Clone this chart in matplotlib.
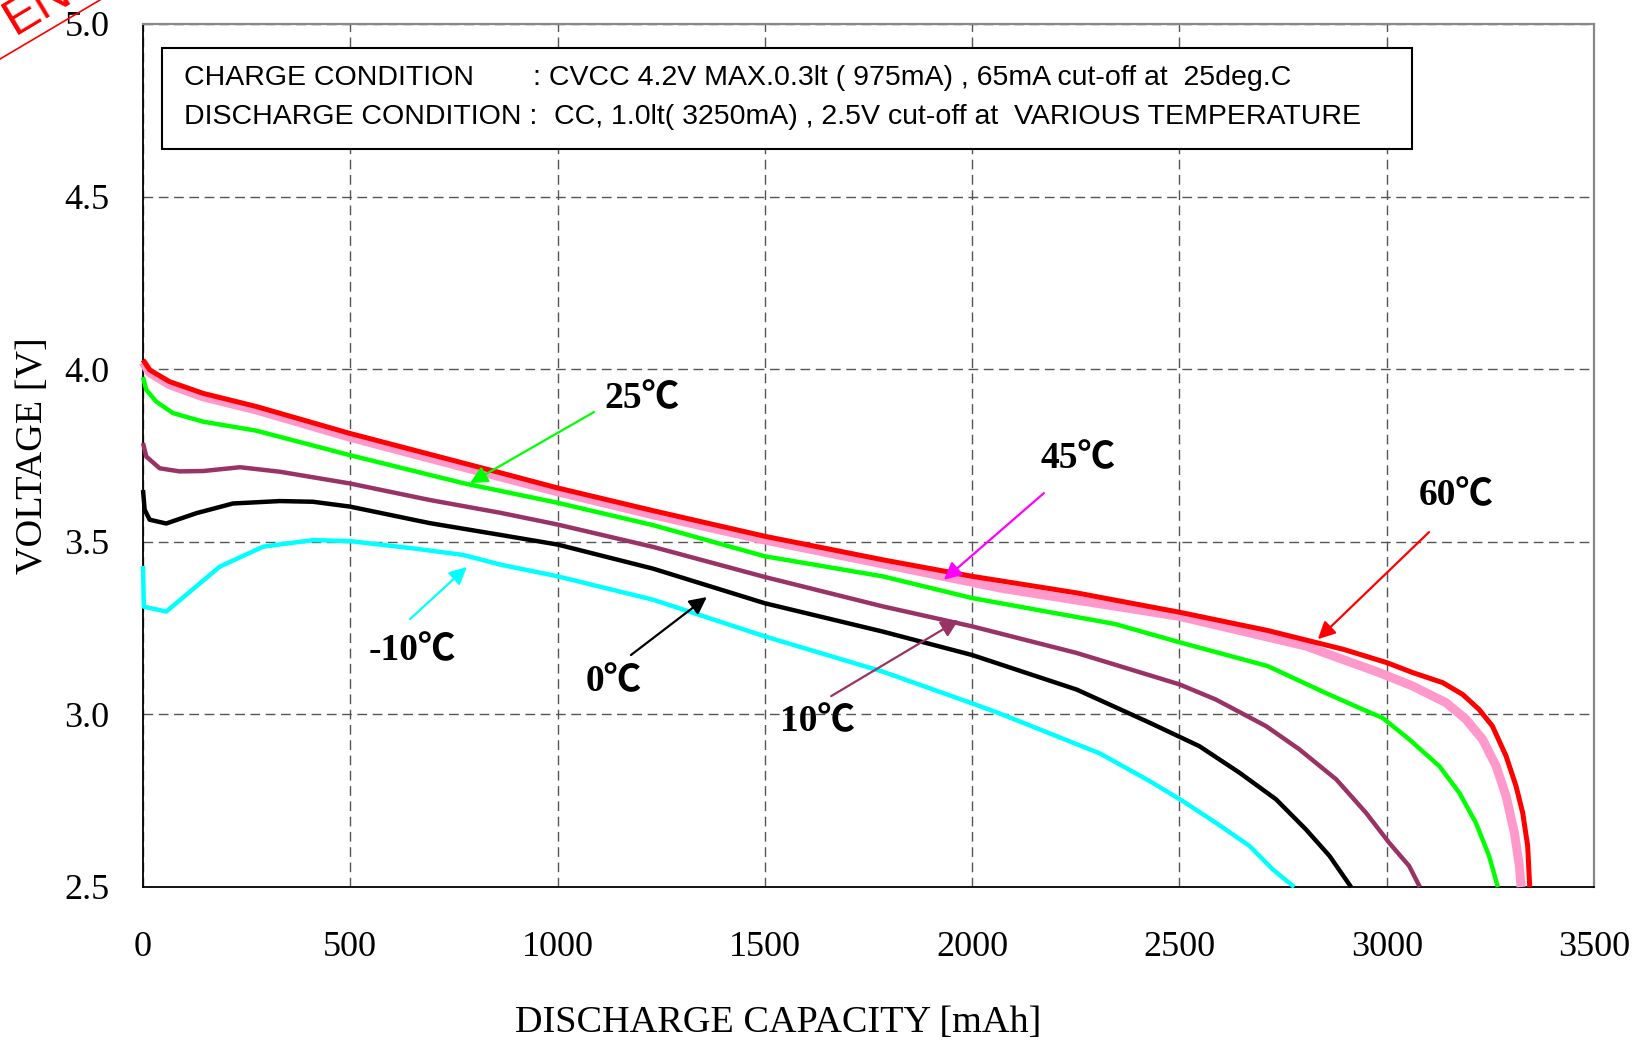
import matplotlib
matplotlib.use("Agg")
import matplotlib.pyplot as plt
from matplotlib.lines import Line2D
from matplotlib.patches import Rectangle

# discharge curves (capacity mAh, voltage V)
cap_60 = [0, 16, 64, 145, 273, 499, 862, 1000, 1231, 1500, 1784, 2000, 2252, 2500,
          2713, 2897, 3000, 3063, 3135, 3183, 3223, 3255, 3288, 3312, 3328, 3340, 3345]
v_60 = [4.027, 3.998, 3.964, 3.930, 3.892, 3.814, 3.700, 3.656, 3.590, 3.516, 3.448,
        3.400, 3.352, 3.296, 3.243, 3.188, 3.150, 3.121, 3.092, 3.058, 3.014, 2.966,
        2.879, 2.792, 2.715, 2.619, 2.500]

cap_45 = [0, 16, 64, 145, 273, 499, 862, 1000, 1231, 1500, 1784, 2068, 2500, 2805,
          2982, 3063, 3143, 3191, 3231, 3264, 3288, 3308, 3320, 3324]
v_45 = [4.020, 3.990, 3.955, 3.920, 3.882, 3.803, 3.688, 3.645, 3.578, 3.505, 3.436,
        3.366, 3.284, 3.198, 3.121, 3.082, 3.034, 2.986, 2.928, 2.850, 2.763, 2.657,
        2.561, 2.500]

cap_25 = [0, 8, 32, 72, 145, 273, 499, 772, 1000, 1231, 1500, 1784, 2000, 2344, 2500,
          2713, 2851, 2943, 2990, 3054, 3127, 3175, 3215, 3247, 3268]
v_25 = [3.977, 3.940, 3.906, 3.873, 3.848, 3.822, 3.751, 3.670, 3.613, 3.548, 3.458,
        3.400, 3.337, 3.262, 3.209, 3.140, 3.063, 3.014, 2.990, 2.928, 2.850, 2.773,
        2.686, 2.590, 2.500]

cap_10 = [0, 8, 40, 88, 145, 234, 330, 499, 692, 862, 1000, 1231, 1500, 1784, 2000,
          2252, 2500, 2588, 2709, 2789, 2878, 2950, 3006, 3054, 3080]
v_10 = [3.786, 3.747, 3.713, 3.704, 3.705, 3.716, 3.703, 3.669, 3.621, 3.584, 3.550,
        3.485, 3.398, 3.313, 3.255, 3.178, 3.087, 3.043, 2.966, 2.899, 2.812, 2.715,
        2.628, 2.561, 2.500]

cap_0 = [0, 4, 16, 56, 129, 217, 330, 410, 499, 692, 862, 1000, 1231, 1500, 1784, 2000,
         2252, 2428, 2548, 2645, 2733, 2805, 2862, 2914]
v_0 = [3.650, 3.593, 3.564, 3.553, 3.583, 3.611, 3.618, 3.616, 3.602, 3.554, 3.520,
       3.492, 3.422, 3.322, 3.240, 3.172, 3.072, 2.976, 2.908, 2.831, 2.754, 2.667,
       2.590, 2.500]

cap_m10 = [0, 2, 56, 104, 185, 290, 411, 499, 651, 772, 862, 1000, 1231, 1500, 1784,
           2000, 2068, 2308, 2428, 2508, 2588, 2669, 2725, 2777]
v_m10 = [3.430, 3.312, 3.298, 3.346, 3.428, 3.486, 3.505, 3.502, 3.481, 3.462, 3.434,
         3.400, 3.332, 3.226, 3.124, 3.032, 3.002, 2.887, 2.807, 2.749, 2.686, 2.619,
         2.551, 2.500]

x_ticks = [0, 500, 1000, 1500, 2000, 2500, 3000, 3500]
y_ticks = [2.5, 3.0, 3.5, 4.0, 4.5, 5.0]

charge_cond = ": CVCC 4.2V MAX.0.3lt ( 975mA) , 65mA cut-off at  25deg.C"
discharge_cond = "CC, 1.0lt( 3250mA) , 2.5V cut-off at  VARIOUS TEMPERATURE"

# (label, label pos, arrow tail, arrow head, colour)
callouts = [
    ("25℃", (1204, 3.914), (1088, 3.876), (789, 3.670), "#00ff00"),
    ("45℃", (2255, 3.740), (2173, 3.641), (1932, 3.390), "#ff00ff"),
    ("60℃", (3167, 3.633), (3102, 3.528), (2834, 3.218), "#ff0000"),
    ("-10℃", (649, 3.184), (644, 3.276), (781, 3.427), "#00ffff"),
    ("0℃", (1136, 3.094), (1177, 3.172), (1360, 3.340), "#000000"),
    ("10℃", (1628, 2.978), (1660, 3.053), (1967, 3.273), "#993366"),
]

fig = plt.figure(figsize=(16.38, 10.46), dpi=100)
ax = fig.add_axes([143 / 1638, 1 - 887 / 1046, 1451 / 1638, 863 / 1046])

series = [
    (cap_m10, v_m10, "#00ffff", 3.2),
    (cap_0, v_0, "black", 3.2),
    (cap_10, v_10, "#993366", 3.2),
    (cap_25, v_25, "#00ff00", 3.2),
    (cap_45, v_45, "#ff99cc", 6.5),
    (cap_60, v_60, "#ff0000", 3.6),
]
for cap, v, col, lw in series:
    ax.plot(cap, v, color=col, lw=lw, solid_joinstyle="round", solid_capstyle="butt",
            zorder=3, clip_on=False)

ax.set_xlim(0, 3500)
ax.set_ylim(2.5, 5.0)
ax.set_xticks(x_ticks)
ax.set_yticks(y_ticks)
ax.set_xticklabels([str(t) for t in x_ticks])
ax.set_yticklabels([f"{t:.1f}" for t in y_ticks])
ax.tick_params(axis="x", length=0, pad=32, labelsize=26)
ax.tick_params(axis="y", length=0, pad=24, labelsize=26)
for lab in ax.get_xticklabels() + ax.get_yticklabels():
    lab.set_family("Liberation Serif")

ax.grid(True, color="#555555", lw=1.0, linestyle=(0, (7, 4)), zorder=1)
ax.set_axisbelow(True)
for side in ("top", "right"):
    ax.spines[side].set_color("#888888")
    ax.spines[side].set_linewidth(1.6)
for side in ("left", "bottom"):
    ax.spines[side].set_color("black")
    ax.spines[side].set_linewidth(1.3)

ax.set_xlabel("DISCHARGE CAPACITY [mAh]", family="Liberation Serif", fontsize=27.5)
ax.set_ylabel("VOLTAGE [V]", family="Liberation Serif", fontsize=27.5)
ax.xaxis.set_label_coords(0.438, -0.137)
ax.yaxis.set_label_coords(-0.064, 0.5)

# condition box
ax.add_patch(Rectangle((0.0131, 0.8552), 0.8615, 0.117, transform=ax.transAxes,
                       facecolor="white", edgecolor="black", lw=1.5, zorder=4))
box_font = dict(family="Liberation Sans", fontsize=20.5, va="center", zorder=5,
                transform=ax.transAxes)
ax.text(0.0282, 0.9375, "CHARGE CONDITION", **box_font)
ax.text(0.2688, 0.9375, charge_cond, **box_font)
ax.text(0.0282, 0.8925, "DISCHARGE CONDITION :", **box_font)
ax.text(0.2830, 0.8925, discharge_cond, **box_font)

for label, pos, tail, head, col in callouts:
    ax.annotate("", xy=head, xytext=tail,
                arrowprops=dict(arrowstyle="-|>", color=col, lw=1.6,
                                mutation_scale=26, shrinkA=0, shrinkB=0),
                zorder=4)
    ax.text(pos[0], pos[1], label, ha="center", va="center", fontsize=27,
            fontweight="bold", family=["Liberation Serif", "Noto Sans CJK JP"],
            zorder=5)

# red stamp remnant in the top-left corner
fig.add_artist(Line2D([0, 100 / 1638], [1 - 59 / 1046, 1.0], color="red", lw=1.2,
                      transform=fig.transFigure))
fig.text(-4 / 1638, 1 - 44 / 1046, "EN", color="red", fontsize=36, rotation=31,
         family="Liberation Sans", ha="left", va="bottom")

fig.savefig("out.png", dpi=100)
